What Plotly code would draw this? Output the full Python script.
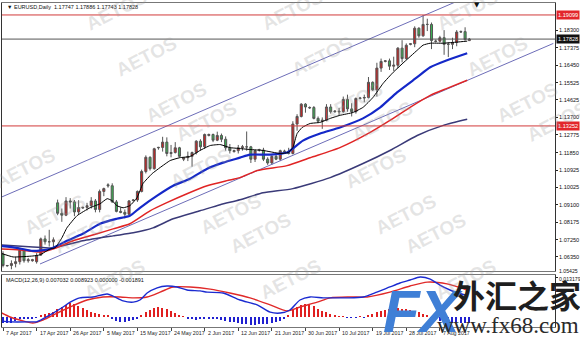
import plotly.graph_objects as go

W, H = 580, 339

# ---------------- data ----------------
bar_index = list(range(112))
opens = [1.0650,1.0588,1.0590,1.0600,1.0610,1.0670,1.0615,1.0615,1.0610,1.0645,
         1.0730,1.0715,1.0715,1.0920,1.0865,1.0855,1.0930,1.0925,1.0872,1.0893,
         1.0896,1.0905,1.0930,1.0885,1.0980,1.1015,1.1010,1.0925,1.0875,1.0870,
         1.0860,1.0932,1.0935,1.0980,1.1085,1.1160,1.1100,1.1210,1.1212,1.1240,
         1.1180,1.1185,1.1210,1.1150,1.1158,1.1165,1.1185,1.1245,1.1215,1.1275,
         1.1280,1.1250,1.1275,1.1255,1.1210,1.1190,1.1195,1.1210,1.1215,1.1215,
         1.1150,1.1200,1.1198,1.1150,1.1130,1.1165,1.1150,1.1190,1.1192,1.1180,
         1.1335,1.1375,1.1440,1.1420,1.1422,1.1365,1.1350,1.1355,1.1425,1.1400,
         1.1403,1.1400,1.1465,1.1415,1.1400,1.1470,1.1472,1.1475,1.1555,1.1515,
         1.1630,1.1665,1.1668,1.1640,1.1645,1.1735,1.1680,1.1755,1.1758,1.1840,
         1.1800,1.1860,1.1860,1.1770,1.1772,1.1790,1.1755,1.1755,1.1765,1.1820,
         1.1822,1.17747]
highs = [1.0665,1.0592,1.0617,1.0635,1.0680,1.0677,1.0630,1.0625,1.0655,1.0737,
         1.0748,1.0778,1.0738,1.0937,1.0890,1.0950,1.0945,1.0935,1.0934,1.0900,
         1.0920,1.0950,1.0940,1.0990,1.1000,1.1023,1.1023,1.0935,1.0895,1.0885,
         1.0935,1.0940,1.0985,1.1095,1.1170,1.1165,1.1210,1.1215,1.1268,1.1265,
         1.1225,1.1240,1.1215,1.1160,1.1190,1.1190,1.1250,1.1255,1.1285,1.1285,
         1.1285,1.1295,1.1285,1.1270,1.1230,1.1200,1.1225,1.1225,1.1296,1.1220,
         1.1200,1.1205,1.1210,1.1160,1.1170,1.1180,1.1200,1.1200,1.1210,1.1350,
         1.1387,1.1445,1.1445,1.1428,1.1430,1.1375,1.1370,1.1440,1.1440,1.1408,
         1.1420,1.1480,1.1490,1.1445,1.1475,1.1478,1.1490,1.1583,1.1560,1.1658,
         1.1680,1.1672,1.1680,1.1690,1.1740,1.1777,1.1760,1.1762,1.1850,1.1845,
         1.1910,1.1890,1.1870,1.1780,1.1800,1.1830,1.1765,1.1790,1.1830,1.1828,
         1.1845,1.17886]
lows = [1.0580,1.0584,1.0570,1.0580,1.0595,1.0605,1.0605,1.0610,1.0600,1.0640,
        1.0700,1.0690,1.0680,1.0855,1.0820,1.0850,1.0890,1.0850,1.0860,1.0888,
        1.0880,1.0890,1.0870,1.0870,1.0955,1.1000,1.0920,1.0870,1.0865,1.0838,
        1.0855,1.0928,1.0925,1.0975,1.1075,1.1090,1.1095,1.1200,1.1190,1.1165,
        1.1160,1.1180,1.1160,1.1140,1.1140,1.1110,1.1175,1.1195,1.1205,1.1270,
        1.1240,1.1245,1.1240,1.1195,1.1180,1.1185,1.1180,1.1195,1.1195,1.1130,
        1.1135,1.1190,1.1140,1.1120,1.1120,1.1145,1.1140,1.1185,1.1175,1.1175,
        1.1300,1.1370,1.1395,1.1415,1.1360,1.1340,1.1310,1.1350,1.1390,1.1395,
        1.1380,1.1395,1.1400,1.1375,1.1390,1.1465,1.1450,1.1470,1.1510,1.1480,
        1.1610,1.1660,1.1620,1.1615,1.1630,1.1660,1.1675,1.1750,1.1740,1.1790,
        1.1795,1.1825,1.1730,1.1765,1.1765,1.1700,1.1688,1.1730,1.1745,1.1815,
        1.1775,1.17743]
closes = [1.0590,1.0590,1.0600,1.0610,1.0670,1.0615,1.0620,1.0620,1.0642,1.0730,
          1.0715,1.0715,1.0725,1.0865,1.0855,1.0930,1.0925,1.0872,1.0895,1.0896,
          1.0905,1.0930,1.0885,1.0980,1.0995,1.1010,1.0925,1.0875,1.0870,1.0860,
          1.0930,1.0935,1.0980,1.1085,1.1160,1.1100,1.1205,1.1212,1.1240,1.1180,
          1.1185,1.1210,1.1165,1.1158,1.1165,1.1185,1.1245,1.1215,1.1280,1.1280,
          1.1250,1.1275,1.1255,1.1210,1.1195,1.1195,1.1210,1.1215,1.1215,1.1150,
          1.1195,1.1198,1.1150,1.1130,1.1165,1.1150,1.1195,1.1192,1.1180,1.1335,
          1.1375,1.1440,1.1425,1.1422,1.1365,1.1350,1.1355,1.1425,1.1400,1.1403,
          1.1400,1.1465,1.1415,1.1400,1.1470,1.1472,1.1475,1.1555,1.1515,1.1630,
          1.1665,1.1668,1.1640,1.1645,1.1735,1.1680,1.1750,1.1758,1.1840,1.1800,
          1.1860,1.1860,1.1775,1.1772,1.1790,1.1755,1.1755,1.1765,1.1820,1.1822,
          1.1780,1.17828]

ma_black_idx = [-0.7, 2.4, 7.1, 8.8, 11.2, 12.4, 14.0, 15.2, 17.6, 20.7, 23.1, 24.8, 26.0, 27.1,
                28.6, 30.2, 31.9, 33.3, 35.5, 37.4, 39.8, 42.1, 44.5, 46.9, 49.3, 51.7, 54.0,
                56.4, 58.8, 61.9, 66.0, 67.9, 69.0, 70.0, 71.2, 73.1, 75.5, 77.9, 80.2, 83.3,
                85.7, 88.1, 90.5, 92.9, 95.2, 98.6, 100.0, 101.7, 104.8, 108.1, 110.5]
ma_black = [1.0656, 1.0635, 1.0640, 1.0646, 1.0677, 1.0683, 1.0735, 1.0788, 1.0852, 1.0894,
            1.0915, 1.0942, 1.0931, 1.0905, 1.0894, 1.0905, 1.0947, 1.1021, 1.1074, 1.1106,
            1.1143, 1.1158, 1.1164, 1.1196, 1.1222, 1.1227, 1.1211, 1.1206, 1.1201, 1.1196,
            1.1180, 1.1185, 1.1211, 1.1285, 1.1317, 1.1338, 1.1344, 1.1365, 1.1381, 1.1396,
            1.1423, 1.1476, 1.1550, 1.1608, 1.1656, 1.1724, 1.1751, 1.1761, 1.1761, 1.1767, 1.1772]

ma_blue_idx = [-0.7, 3.3, 7.1, 11.2, 15.2, 19.0, 23.1, 27.1, 30.2, 32.6, 36.7, 40.5, 44.5, 48.6,
               52.4, 56.4, 58.8, 63.6, 67.6, 71.4, 75.5, 80.2, 85.7, 89.8, 93.8, 98.6, 101.7,
               105.7, 110.5]
ma_blue = [1.0693, 1.0683, 1.0667, 1.0677, 1.0720, 1.0757, 1.0810, 1.0836, 1.0852, 1.0894,
           1.0958, 1.1010, 1.1047, 1.1100, 1.1132, 1.1158, 1.1174, 1.1174, 1.1185, 1.1248,
           1.1285, 1.1317, 1.1365, 1.1423, 1.1502, 1.1582, 1.1634, 1.1671, 1.1708]

ma_red_idx = [-0.7, 4.0, 8.8, 11.9, 16.7, 22.4, 26.2, 30.2, 35.0, 39.0, 43.8, 48.6, 53.3, 56.4,
              60.5, 67.6, 73.1, 80.2, 87.4, 92.1, 96.9, 101.7, 105.7, 110.5]
ma_red = [1.0677, 1.0672, 1.0661, 1.0677, 1.0720, 1.0757, 1.0783, 1.0810, 1.0878, 1.0921,
          1.0968, 1.1010, 1.1037, 1.1053, 1.1090, 1.1116, 1.1158, 1.1211, 1.1291, 1.1354,
          1.1423, 1.1486, 1.1523, 1.1566]

ma_navy_idx = [-0.7, 7.1, 11.9, 19.0, 26.2, 31.0, 35.7, 40.5, 46.9, 51.7, 56.4, 61.9, 69.0,
               77.9, 85.7, 92.1, 98.6, 104.8, 110.5]
ma_navy = [1.0698, 1.0688, 1.0683, 1.0720, 1.0746, 1.0762, 1.0788, 1.0836, 1.0878, 1.0910,
           1.0936, 1.0973, 1.0995, 1.1053, 1.1127, 1.1196, 1.1275, 1.1328, 1.1360]

channel_upper_idx = [-1.0, 131.0]
channel_upper = [1.09443, 1.22000]
channel_lower_idx = [8.81, 131.0]
channel_lower = [1.05979, 1.17599]

level_prices = [1.19099, 1.17828, 1.13252]
level_colors = ["#d23a3a", "#555555", "#d23a3a"]
level_tag_bg = ["#e3262b", "#111111", "#e3262b"]

price_tick_vals = [1.18300, 1.17375, 1.16450, 1.15525, 1.14625, 1.13700, 1.12775,
                   1.11850, 1.10925, 1.10025, 1.09100, 1.08175, 1.07250, 1.06350]

macd_idx = [-0.7, 1.7, 7.1, 8.0, 11.2, 14.3, 16.0, 18.3, 21.4, 24.8, 26.2, 28.6, 31.0, 32.6,
            34.3, 36.7, 39.0, 41.4, 43.8, 46.9, 48.6, 52.4, 56.4, 60.5, 63.6, 66.0, 68.3,
            70.7, 73.1, 76.2, 78.6, 81.9, 85.7, 89.0, 92.1, 94.5, 96.9, 99.3, 101.7, 104.0,
            106.4, 110.5]
macd_main = [-0.0013, -0.0016, -0.0016, -0.0016, 0.0007, 0.0033, 0.0049, 0.0063, 0.0066,
             0.0076, 0.0069, 0.0053, 0.0049, 0.0056, 0.0079, 0.0096, 0.0102, 0.0099, 0.0089,
             0.0086, 0.0082, 0.0079, 0.0056, 0.0040, 0.0016, 0.0013, 0.0023, 0.0056, 0.0066,
             0.0063, 0.0063, 0.0063, 0.0066, 0.0082, 0.0099, 0.0112, 0.0122, 0.0132, 0.0125,
             0.0105, 0.0089, 0.0070]
signal_idx = [-0.7, 1.7, 4.0, 7.1, 9.5, 12.9, 16.0, 20.0, 23.8, 27.9, 31.0, 34.3, 37.4, 40.5,
              44.5, 49.3, 54.0, 58.8, 63.6, 67.6, 70.7, 74.8, 77.9, 82.6, 86.7, 92.1, 96.9,
              101.0, 105.7, 110.5]
macd_signal = [0.0016, 0.0000, -0.0010, -0.0020, -0.0010, 0.0013, 0.0033, 0.0056, 0.0066,
               0.0066, 0.0063, 0.0066, 0.0082, 0.0099, 0.0099, 0.0092, 0.0079, 0.0063, 0.0040,
               0.0020, 0.0033, 0.0049, 0.0063, 0.0066, 0.0066, 0.0082, 0.0102, 0.0115, 0.0109,
               0.0089]
macd_hist = [-0.0020, -0.0021, -0.0019, -0.0012, -0.0008, -0.0006, -0.0005, -0.0004, -0.0002, 0.0008,
             0.0010, 0.0014, 0.0018, 0.0028, 0.0033, 0.0038, 0.0045, 0.0043, 0.0036, 0.0030,
             0.0024, 0.0018, 0.0012, 0.0010, 0.0008, 0.0005, -0.0008, -0.0012, -0.0015, -0.0016,
             -0.0014, -0.0010, -0.0004, 0.0008, 0.0016, 0.0022, 0.0029, 0.0032, 0.0031, 0.0026,
             0.0020, 0.0012, 0.0007, 0.0003, -0.0005, -0.0008, -0.0009, -0.0007, -0.0006, -0.0007,
             -0.0008, -0.0008, -0.0010, -0.0013, -0.0016, -0.0018, -0.0020, -0.0022, -0.0024, -0.0025,
             -0.0025, -0.0024, -0.0024, -0.0022, -0.0020, -0.0018, -0.0014, -0.0008, 0.0008, 0.0025,
             0.0034, 0.0040, 0.0042, 0.0040, 0.0036, 0.0028, 0.0020, 0.0015, 0.0010, 0.0006,
             0.0003, 0.0002, -0.0002, -0.0003, -0.0002, 0.0002, -0.0002, 0.0006, 0.0010, 0.0016,
             0.0020, 0.0023, 0.0025, 0.0027, 0.0029, 0.0028, 0.0026, 0.0023, 0.0019, 0.0015,
             0.0010, 0.0004, -0.0004, -0.0008, -0.0012, -0.0015, -0.0018, -0.0019, -0.0019, -0.0019,
             -0.0019, -0.0019]
macd_top_label = 0.013179

date_tick_index = [0, 8, 16, 24, 32, 40, 48, 56, 64, 72, 80, 88, 96, 104]
date_tick_text = ["7 Apr 2017", "17 Apr 2017", "26 Apr 2017", "5 May 2017", "15 May 2017",
                  "24 May 2017", "2 Jun 2017", "12 Jun 2017", "21 Jun 2017", "30 Jun 2017",
                  "10 Jul 2017", "19 Jul 2017", "28 Jul 2017", "7 Aug 2017"]

title_text = "▼ EURUSD,Daily  1.17747 1.17886 1.17743 1.17828"
macd_text = "MACD(12,26,9) 0.007032 0.008923 0.000000 -0.001891"

# ---------------- layout geometry (pixels) ----------------
X_L, X_R = 2, 555
MAIN_T, MAIN_B = 3, 271
MACD_T, MACD_B = 275, 327
FONT = "Liberation Sans"
LABEL_SIZE = 5.6


def fx(px):
    return px / W


def fy(py):
    return 1 - py / H


fig = go.Figure()

# channel lines
fig.add_trace(go.Scatter(x=channel_upper_idx, y=channel_upper, mode="lines",
                         line=dict(color="#6d6db8", width=1), hoverinfo="skip", showlegend=False))
fig.add_trace(go.Scatter(x=channel_lower_idx, y=channel_lower, mode="lines",
                         line=dict(color="#6d6db8", width=1), hoverinfo="skip", showlegend=False))

# moving averages
fig.add_trace(go.Scatter(x=ma_navy_idx, y=ma_navy, mode="lines", line=dict(color="#3a3a78", width=1.5, shape="spline", smoothing=0.6), showlegend=False))
fig.add_trace(go.Scatter(x=ma_red_idx, y=ma_red, mode="lines", line=dict(color="#e02424", width=1.5, shape="spline", smoothing=0.6), showlegend=False))
fig.add_trace(go.Scatter(x=ma_blue_idx, y=ma_blue, mode="lines", line=dict(color="#1428c8", width=2.2, shape="spline", smoothing=0.6), showlegend=False))
fig.add_trace(go.Scatter(x=ma_black_idx, y=ma_black, mode="lines", line=dict(color="#000000", width=1, shape="spline", smoothing=0.4), showlegend=False))

# candles
fig.add_trace(go.Candlestick(
    x=bar_index, open=opens, high=highs, low=lows, close=closes,
    increasing=dict(fillcolor="#cc2222", line=dict(color="#555555", width=1)),
    decreasing=dict(fillcolor="#3cae52", line=dict(color="#555555", width=1)),
    whiskerwidth=0, showlegend=False))

# MACD panel
fig.add_trace(go.Bar(x=bar_index, y=macd_hist, width=0.35,
                     marker=dict(color=["#e02020" if v > 0 else "#2020d0" for v in macd_hist], line=dict(width=0)),
                     xaxis="x2", yaxis="y2", showlegend=False))
fig.add_trace(go.Scatter(x=signal_idx, y=macd_signal, mode="lines", xaxis="x2", yaxis="y2",
                         line=dict(color="#e02a2a", width=1.4, shape="spline", smoothing=0.7), showlegend=False))
fig.add_trace(go.Scatter(x=macd_idx, y=macd_main, mode="lines", xaxis="x2", yaxis="y2",
                         line=dict(color="#1a2ad0", width=1.4, shape="spline", smoothing=0.7), showlegend=False))

shapes = []
for p, c in zip(level_prices, level_colors):
    shapes.append(dict(type="line", xref="paper", yref="y", x0=fx(X_L), x1=fx(X_R), y0=p, y1=p,
                       line=dict(color=c, width=1)))

annotations = []
# right price-axis labels
for v in price_tick_vals:
    annotations.append(dict(x=fx(X_R + 2), y=v, xref="paper", yref="y", xanchor="left", yanchor="middle",
                            text=f"{v:.5f}", showarrow=False,
                            font=dict(family=FONT, size=LABEL_SIZE, color="#111")))
annotations.append(dict(x=fx(X_R + 2), y=macd_top_label, xref="paper", yref="y2", xanchor="left",
                        yanchor="middle", text=f"{macd_top_label:.6f}", showarrow=False, yshift=-2,
                        font=dict(family=FONT, size=5.2, color="#111")))
annotations.append(dict(x=fx(X_R + 2), y=fy(272), xref="paper", yref="paper", xanchor="left",
                        yanchor="middle", text="1.05425", showarrow=False, yshift=1,
                        font=dict(family=FONT, size=5.2, color="#111")))
for p, bg in zip(level_prices, level_tag_bg):
    annotations.append(dict(x=fx(X_R + 1), y=p, xref="paper", yref="y", xanchor="left", yanchor="middle",
                            text=f"{p:.5f}", showarrow=False, bgcolor=bg, borderpad=1,
                            font=dict(family=FONT, size=LABEL_SIZE, color="white")))

for i, t in zip(date_tick_index, date_tick_text):
    annotations.append(dict(x=i, y=fy(333), xref="x2", yref="paper", xanchor="left", yanchor="middle",
                            text=t, showarrow=False, xshift=1,
                            font=dict(family=FONT, size=5.3, color="#222")))

annotations.append(dict(x=fx(5), y=fy(7), xref="paper", yref="paper", xanchor="left", yanchor="middle",
                        text=title_text, showarrow=False, font=dict(family=FONT, size=5.5, color="#111")))
annotations.append(dict(x=fx(4), y=fy(280), xref="paper", yref="paper", xanchor="left", yanchor="middle",
                        text=macd_text, showarrow=False, font=dict(family=FONT, size=5.5, color="#111")))
annotations.append(dict(x=fx(477), y=fy(5), xref="paper", yref="paper", xanchor="center", yanchor="middle",
                        text="▼", showarrow=False, font=dict(family="DejaVu Sans", size=7, color="#111")))

# AETOS watermarks
for m in range(-2, 3):
    for k in range(-1, 8):
        cx = 110 + 30 * k + 212 * m
        cy = 30 + 46 * k
        if -40 < cx < 620 and -20 < cy < 350:
            annotations.append(dict(x=fx(cx), y=fy(cy), xref="paper", yref="paper", text="AETOS",
                                    showarrow=False, textangle=-27,
                                    font=dict(family=FONT, size=19, color="rgba(150,150,150,0.25)", weight="bold")))

# fx68 logo
annotations.append(dict(x=fx(423), y=fy(311), xref="paper", yref="paper", text="FX", showarrow=False,
                        xanchor="center", yanchor="middle",
                        font=dict(family=FONT, size=60, color="#3f7fd6", weight="bold", style="italic")))
annotations.append(dict(x=fx(517), y=fy(294), xref="paper", yref="paper", text="外汇之家", showarrow=False,
                        xanchor="center", yanchor="middle",
                        font=dict(family="Noto Sans CJK SC", size=32, color="#1e1e1e", weight="bold")))
annotations.append(dict(x=fx(508), y=fy(325), xref="paper", yref="paper", text="www.fx68.com", showarrow=False,
                        xanchor="center", yanchor="middle",
                        font=dict(family="Liberation Serif", size=23, color="#2a2a2a")))

axis_common = dict(showgrid=False, zeroline=False, fixedrange=True)

fig.update_layout(
    template="none",
    width=W, height=H,
    margin=dict(l=0, r=0, t=0, b=0),
    paper_bgcolor="white", plot_bgcolor="white",
    showlegend=False,
    boxgap=0.3,
    xaxis=dict(domain=[fx(X_L), fx(X_R)], range=[-0.24, 131.4], showticklabels=False,
               showline=True, mirror=True, linecolor="#777777", linewidth=1,
               rangeslider=dict(visible=False), anchor="y", automargin=False, **axis_common),
    yaxis=dict(domain=[fy(MAIN_B), fy(MAIN_T)], range=[1.05609, 1.19729], side="right",
               tickvals=price_tick_vals, showticklabels=False,
               ticks="outside", ticklen=2, tickcolor="#222", tickwidth=1,
               showline=True, mirror=True, linecolor="#333333", linewidth=1,
               anchor="x", automargin=False, **axis_common),
    xaxis2=dict(domain=[fx(X_L), fx(X_R)], range=[-0.24, 131.4], anchor="y2",
                tickvals=date_tick_index, showticklabels=False, ticks="outside", ticklen=3,
                tickcolor="#444", showline=True, mirror=True, linecolor="#777777", linewidth=1,
                automargin=False, **axis_common),
    yaxis2=dict(domain=[fy(MACD_B), fy(MACD_T)], range=[-0.003295, 0.01384], side="right",
                tickvals=[macd_top_label], showticklabels=False,
                ticks="outside", ticklen=2, tickcolor="#222",
                showline=True, mirror=True, linecolor="#333333", linewidth=1,
                anchor="x2", automargin=False, **axis_common),
    shapes=shapes,
    annotations=annotations,
    bargap=0,
)

fig.write_html("out.html")
